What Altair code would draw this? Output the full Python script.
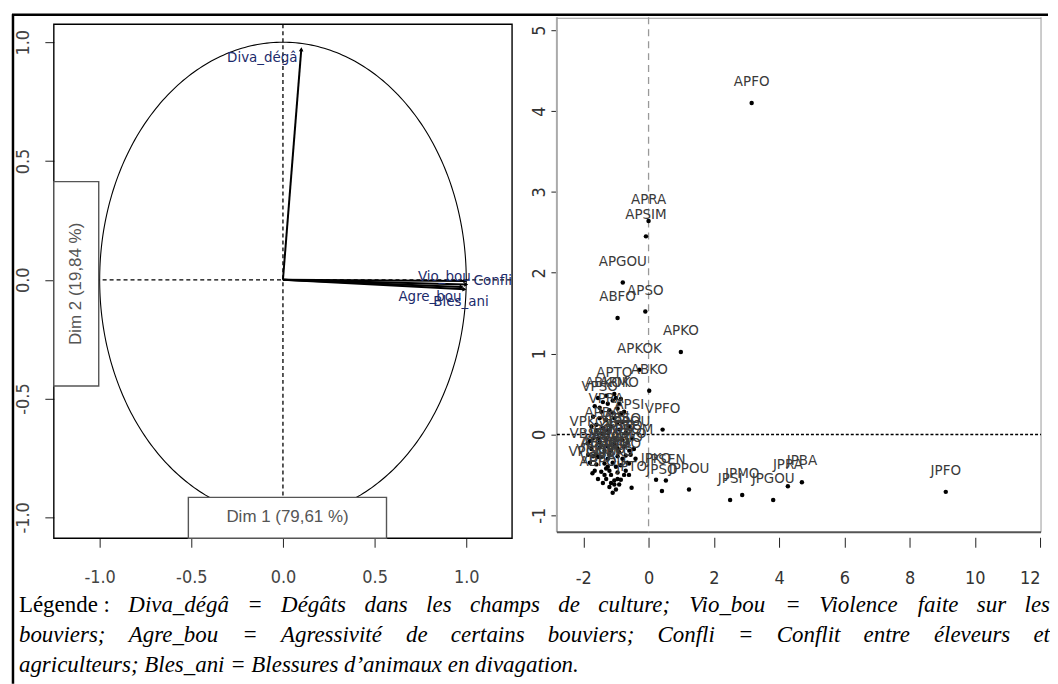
import numpy as np
import pandas as pd
import altair as alt

# ------------------------------------------------------------------ data
# Left panel: variables factor map (correlation circle)
var_names = ["Diva_dégâ", "Vio_bou", "Confli", "Agre_bou", "Bles_ani"]
var_dim1 = [0.10, 0.995, 1.00, 0.975, 0.99]
var_dim2 = [0.97, -0.005, -0.02, -0.03, -0.04]

# Right panel: labelled individuals
lab_names = [
    "APFO", "APRA", "APSIM", "APGOU", "ABFO", "APSO", "APKO", "APKOK", "ABKO",
    "APTO", "APMO", "VPFO", "VPSOM", "VPKO", "VPGOU", "APBA", "APSI",
    "JPKO", "JPSEN", "JPSO", "JPPOU", "JPTO", "JPSI", "JPMO", "JPGOU", "JPRA",
    "JPBA", "JPFO", "VPRA", "VPSO", "VPMO", "VPTO", "VPBA", "VPSI", "ABSO",
    "ABGOU", "ABRA", "ABTO", "ABSI", "ABMO", "JBFO", "JBKO",
    "VBSO", "VBKO", "ABPOU", "JBGOU", "VPPOU", "ABKOK", "VBRA", "JBSI", "VBMO", "JBTO",
]
lab_dim1 = [
    3.16, 0.00, -0.08, -0.79, -0.95, -0.10, 0.99, -0.28, 0.02,
    -1.05, -0.90, 0.43, -0.59, -1.87, -1.72, -1.42, -0.59,
    0.23, 0.53, 0.41, 1.24, -0.52, 2.50, 2.87, 3.82, 4.27,
    4.70, 9.11, -1.30, -1.50, -1.20, -0.95, -1.45, -1.05, -0.80,
    -1.35, -1.10, -0.75, -1.60, -0.85, -1.20, -0.95,
    -1.85, -1.65, -1.40, -1.15, -0.65, -1.25, -1.55, -1.00, -0.80, -0.55,
]
lab_dim2 = [
    4.10, 2.64, 2.45, 1.88, 1.44, 1.52, 1.02, 0.80, 0.54,
    0.50, 0.38, 0.06, -0.20, -0.11, -0.48, 0.01, 0.10,
    -0.56, -0.57, -0.70, -0.68, -0.66, -0.81, -0.75, -0.81, -0.64,
    -0.59, -0.71, 0.18, 0.33, -0.25, -0.17, -0.28, -0.04, -0.07,
    -0.36, -0.35, -0.15, -0.37, -0.38, -0.45, -0.47,
    -0.25, -0.45, -0.60, -0.20, -0.10, 0.38, -0.55, -0.40, -0.30, -0.25,
]
# Right panel: unlabelled individuals in the dense cluster
cl_dim1 = [
    -1.55, -1.30, -1.10, -0.85, -1.65, -1.20, -0.95, -0.75, -1.70, -1.50,
    -1.05, -0.80, -1.60, -1.40, -1.15, -0.90, -0.70,
    -1.80, -1.55, -1.30, -0.50, -1.75, -1.50, -1.25, -0.45, -1.70, -1.25,
    -0.95, -0.70, -0.40, -0.60, -1.45, -0.70,
    -1.30, -1.05, -0.85, -1.20, -1.00, -1.10, -0.90, -1.62,
    -1.80, -1.35, -1.05, -0.90, -1.25, -1.55, -1.15, -0.95, -0.75, -1.35,
    -1.60, -1.00, -1.40, -1.45, -0.85, -1.10, -1.25, -0.95, -1.75, -1.05,
    -1.15, -0.60, -1.70, -1.50, -1.30, -0.65,
]
cl_dim2 = [
    0.45, 0.48, 0.42, 0.44, 0.35, 0.30, 0.32, 0.28, 0.22, 0.20,
    0.20, 0.15, 0.12, 0.08, 0.10, 0.06, 0.02,
    -0.08, -0.05, -0.06, -0.05, -0.18, -0.16, -0.15, -0.18, -0.27, -0.30,
    -0.27, -0.26, -0.30, -0.36, -0.46, -0.45,
    -0.55, -0.57, -0.56, -0.65, -0.68, -0.72, -0.62, -0.25,
    -0.35, -0.20, -0.12, -0.22, -0.40, -0.28, -0.50, -0.55, -0.50, -0.50,
    0.05, 0.45, 0.40, 0.28, 0.25, 0.27, 0.05, 0.15, 0.10, -0.62,
    -0.60, -0.50, -0.05, -0.10, -0.42, -0.35,
]

left_ticks = [-1.0, -0.5, 0.0, 0.5, 1.0]
right_x_ticks = [-2, 0, 2, 4, 6, 8, 10, 12]
right_y_ticks = [-1, 0, 1, 2, 3, 4, 5]

dim1_title = "Dim 1 (79,61 %)"
dim2_title = "Dim 2 (19,84 %)"

legend_head = "Légende :"
legend_line1 = "Diva_dégâ = Dégâts dans les champs de culture; Vio_bou = Violence faite sur les"
legend_line2 = "bouviers; Agre_bou = Agressivité de certains bouviers; Confli = Conflit entre éleveurs et"
legend_line3 = "agriculteurs; Bles_ani = Blessures d’animaux en divagation."

# ------------------------------------------------------------------ layout / style
NARROW = "DejaVu Sans Condensed, Liberation Sans, sans-serif"
SANS = "Liberation Sans, Arial, sans-serif"
SERIF = "Liberation Serif"
W_L, H_L = 460, 523
W_R, H_R = 486, 517
XL = [-1.25, 1.25]
YL = [-1.088, 1.105]
XR = [-2.81, 12.03]
YR = [-1.21, 5.16]
FRAME_Y = [-1.088, 1.075]
HYPHEN = "replace(datum.label, '\u2212', '-')"

dummy = pd.DataFrame({"k": [0]})

# ------------------------------------------------------------------ left panel
sxL = alt.Scale(domain=XL, nice=False, zero=False)
syL = alt.Scale(domain=YL, nice=False, zero=False)
axXL = alt.Axis(values=left_ticks, format=".1f", labelExpr=HYPHEN, title=None, grid=False,
                domain=False, tickSize=9, tickColor="#222", labelFont=NARROW, labelFontSize=18,
                labelColor="#444", labelPadding=21)
axYL = alt.Axis(values=left_ticks, format=".1f", labelExpr=HYPHEN, title=None, grid=False,
                domain=False, tickSize=9, tickColor="#222", labelFont=NARROW, labelFontSize=18,
                labelColor="#444", labelAngle=270, labelAlign="center",
                labelBaseline="bottom", labelPadding=12)


def xl(f):
    return alt.X(f, type="quantitative", scale=sxL, axis=axXL)


def yl(f):
    return alt.Y(f, type="quantitative", scale=syL, axis=axYL)


theta = np.linspace(0, 2 * np.pi, 361)
circle_df = pd.DataFrame({"cx": np.cos(theta), "cy": np.sin(theta), "o": np.arange(361)})

pxx = W_L / (XL[1] - XL[0])
pxy = H_L / (YL[1] - YL[0])
arrow_df = pd.DataFrame({"name": var_names, "ex": var_dim1, "ey": var_dim2,
                         "ox": 0.0, "oy": 0.0})
arrow_df["ang"] = (np.degrees(np.arctan2(arrow_df.ex * pxx, arrow_df.ey * pxy)) + 360) % 360

# label anchors for the variable names (annotation placement)
lab_right = pd.DataFrame({"name": ["Diva_dégâ", "Vio_bou"], "lx": [0.08, 1.025], "ly": [0.937, 0.017]})
lab_left = pd.DataFrame({"name": ["Confli", "Agre_bou", "Bles_ani"],
                         "lx": [1.04, 0.63, 0.82], "ly": [0.0, -0.07, -0.09]})

box_df = pd.DataFrame({"x1": [-0.516, -1.25], "x2": [0.565, -1.005],
                       "y1": [-0.916, 0.413], "y2": [FRAME_Y[0], -0.447]})

frame = alt.Chart(dummy).mark_rect(filled=False, stroke="black", strokeWidth=1.4).encode(
    x=alt.value(0), x2=alt.value(W_L), y=alt.value(7), y2=alt.value(H_L))
hline_l = alt.Chart(dummy).mark_rule(color="black", strokeDash=[4, 3], strokeWidth=1.3).encode(
    x=alt.value(0), x2=alt.value(W_L),
    y=alt.YDatum(0, type="quantitative", scale=syL, axis=axYL))
vline_l = alt.Chart(dummy).mark_rule(color="black", strokeDash=[4, 3], strokeWidth=1.3).encode(
    x=alt.XDatum(0, type="quantitative", scale=sxL, axis=axXL),
    y=alt.value(7), y2=alt.value(H_L))
circle = alt.Chart(circle_df).mark_line(color="black", strokeWidth=1.1).encode(
    x=xl("cx"), y=yl("cy"), order="o:Q")
arrows = alt.Chart(arrow_df).mark_rule(color="black", strokeWidth=2).encode(
    x=xl("ox"), y=yl("oy"), x2="ex", y2="ey")
heads = alt.Chart(arrow_df).mark_point(shape="triangle-up", filled=True, color="black",
                                       size=22, opacity=1).encode(
    x=xl("ex"), y=yl("ey"), angle=alt.Angle("ang:Q", scale=None))
boxes = alt.Chart(box_df).mark_rect(fill="white", stroke="#555", strokeWidth=1.4).encode(
    x=xl("x1"), x2="x2", y=yl("y1"), y2="y2")
dim1_txt = alt.Chart(dummy).mark_text(text=dim1_title, font=SANS, fontSize=17,
                                      color="#555").encode(
    x=alt.XDatum(0.025, type="quantitative", scale=sxL, axis=axXL),
    y=alt.YDatum(-1.0, type="quantitative", scale=syL, axis=axYL))
dim2_txt = alt.Chart(dummy).mark_text(text=dim2_title, font=SANS, fontSize=17,
                                      color="#555", angle=270).encode(
    x=alt.XDatum(-1.127, type="quantitative", scale=sxL, axis=axXL),
    y=alt.YDatum(-0.017, type="quantitative", scale=syL, axis=axYL))
vlab_r = alt.Chart(lab_right).mark_text(align="right", baseline="middle", font=NARROW,
                                        fontSize=15, color="#1c2b6b").encode(
    x=xl("lx"), y=yl("ly"), text="name:N")
vlab_l = alt.Chart(lab_left).mark_text(align="left", baseline="middle", font=NARROW,
                                       fontSize=15, color="#1c2b6b").encode(
    x=xl("lx"), y=yl("ly"), text="name:N")

# ---- legend text (justified lines), positioned in pixels relative to left plot
ITW = {" ": 250, ";": 333, ":": 333, "=": 675, "_": 500, ".": 250, "’": 333,
       "A": 611, "B": 611, "C": 667, "D": 722, "V": 611, "L": 556,
       "a": 500, "b": 500, "c": 444, "d": 500, "e": 444, "f": 278, "g": 500, "h": 500,
       "i": 278, "j": 278, "k": 444, "l": 278, "m": 722, "n": 500, "o": 500, "p": 500,
       "q": 500, "r": 389, "s": 389, "t": 278, "u": 500, "v": 444, "w": 667, "x": 444,
       "y": 444, "z": 389, "é": 444, "â": 500}
RMW = {"L": 611, "é": 444, "g": 500, "e": 444, "n": 500, "d": 500, " ": 250, ":": 278}
FS_LEG = 23
X0_PAGE, PLOT_LEFT_PAGE, PLOT_TOP_PAGE = 17, 52, 15


def wid(s, table):
    return sum(table.get(c, 500) for c in s) * FS_LEG / 1000.0


def justify(words, styles, x_end, y_page):
    widths = [wid(w, RMW if st == "roman" else ITW) for w, st in zip(words, styles)]
    gap = (x_end - X0_PAGE - sum(widths)) / (len(words) - 1)
    rows, x = [], X0_PAGE
    for w, st, ww in zip(words, styles, widths):
        rows.append({"word": w, "style": st, "px": x - PLOT_LEFT_PAGE,
                     "py": y_page - PLOT_TOP_PAGE})
        x += ww + gap
    return rows


w1 = legend_line1.split(" ")
w2 = legend_line2.split(" ")
rows = justify([legend_head] + w1, ["roman"] + ["italic"] * len(w1), 1052, 605)
rows += justify(w2, ["italic"] * len(w2), 1052, 635)
rows.append({"word": legend_line3, "style": "italic", "px": X0_PAGE - PLOT_LEFT_PAGE,
             "py": 665 - PLOT_TOP_PAGE})
leg_df = pd.DataFrame(rows)

leg_roman = alt.Chart(leg_df).transform_filter("datum.style == 'roman'").mark_text(
    align="left", baseline="middle", font=SERIF, fontSize=FS_LEG, color="black").encode(
    x=alt.X("px:Q", scale=None, axis=None), y=alt.Y("py:Q", scale=None, axis=None), text="word:N")
leg_italic = alt.Chart(leg_df).transform_filter("datum.style == 'italic'").mark_text(
    align="left", baseline="middle", font=SERIF, fontSize=FS_LEG, fontStyle="italic",
    color="black").encode(
    x=alt.X("px:Q", scale=None, axis=None), y=alt.Y("py:Q", scale=None, axis=None), text="word:N")

border_left = alt.Chart(dummy).mark_rule(color="black", strokeWidth=2.5).encode(
    x=alt.value(-41), y=alt.value(-3), y2=alt.value(669))
border_top = alt.Chart(dummy).mark_rule(color="black", strokeWidth=2.5).encode(
    x=alt.value(-42), x2=alt.value(998), y=alt.value(-2.5))

left = alt.layer(frame, hline_l, vline_l, circle, arrows, heads, boxes, dim1_txt, dim2_txt,
                 vlab_r, vlab_l, leg_roman, leg_italic, border_left, border_top).properties(
    width=W_L, height=H_L)

# ------------------------------------------------------------------ right panel
sxR = alt.Scale(domain=XR, nice=False, zero=False)
syR = alt.Scale(domain=YR, nice=False, zero=False)
axXR = alt.Axis(values=right_x_ticks, format="d", labelExpr=HYPHEN, title=None, grid=False,
                domain=False, tickSize=10, offset=5, tickColor="#222", labelFont=NARROW,
                labelFontSize=18, labelColor="#333", labelPadding=22)
axYR = alt.Axis(values=right_y_ticks, format="d", labelExpr=HYPHEN, title=None, grid=False,
                domain=False, tickSize=6, tickColor="#222", labelFont=NARROW, labelFontSize=18,
                labelColor="#333", labelAngle=270, labelAlign="center",
                labelBaseline="bottom", labelPadding=2)

ind_df = pd.DataFrame({
    "name": lab_names + [""] * len(cl_dim1),
    "d1": lab_dim1 + cl_dim1,
    "d2": lab_dim2 + cl_dim2,
})

r_left = alt.Chart(dummy).mark_rule(color="#aaa", strokeWidth=2).encode(
    x=alt.value(0), y=alt.value(0), y2=alt.value(H_R))
r_right = alt.Chart(dummy).mark_rule(color="#bbb", strokeWidth=1.5).encode(
    x=alt.value(W_R), y=alt.value(0), y2=alt.value(H_R))
r_bottom = alt.Chart(dummy).mark_rule(color="#555", strokeWidth=2).encode(
    x=alt.value(0), x2=alt.value(W_R), y=alt.value(H_R))
r_top = alt.Chart(dummy).mark_rule(color="#999", strokeWidth=1).encode(
    x=alt.value(0), x2=alt.value(W_R), y=alt.value(1))
vline_r = alt.Chart(dummy).mark_rule(color="#999", strokeDash=[7, 5], strokeWidth=1.3).encode(
    x=alt.XDatum(0, type="quantitative", scale=sxR, axis=axXR),
    y=alt.value(0), y2=alt.value(H_R))
hline_r = alt.Chart(dummy).mark_rule(color="black", strokeDash=[3, 2], strokeWidth=1.6).encode(
    y=alt.YDatum(0, type="quantitative", scale=syR, axis=axYR),
    x=alt.value(0), x2=alt.value(W_R))
pts = alt.Chart(ind_df).mark_circle(size=20, color="black", opacity=1).encode(
    x=alt.X("d1:Q", scale=sxR, axis=axXR), y=alt.Y("d2:Q", scale=syR, axis=axYR))
labels = alt.Chart(ind_df).transform_filter("datum.name != ''").mark_text(
    dy=-22, font=NARROW, fontSize=15, color="#3a3a3a").encode(
    x=alt.X("d1:Q", scale=sxR, axis=axXR), y=alt.Y("d2:Q", scale=syR, axis=axYR),
    text="name:N")

right = alt.layer(r_left, r_right, r_bottom, r_top, vline_r, hline_r, pts, labels).properties(
    width=W_R, height=H_R)

chart = alt.hconcat(left, right, spacing=45, bounds="flush").properties(
    padding={"left": 2, "top": 3, "right": 0, "bottom": 0}
).configure_view(stroke=None)

chart.save("out.html", embed_options={"renderer": "svg", "actions": False})
